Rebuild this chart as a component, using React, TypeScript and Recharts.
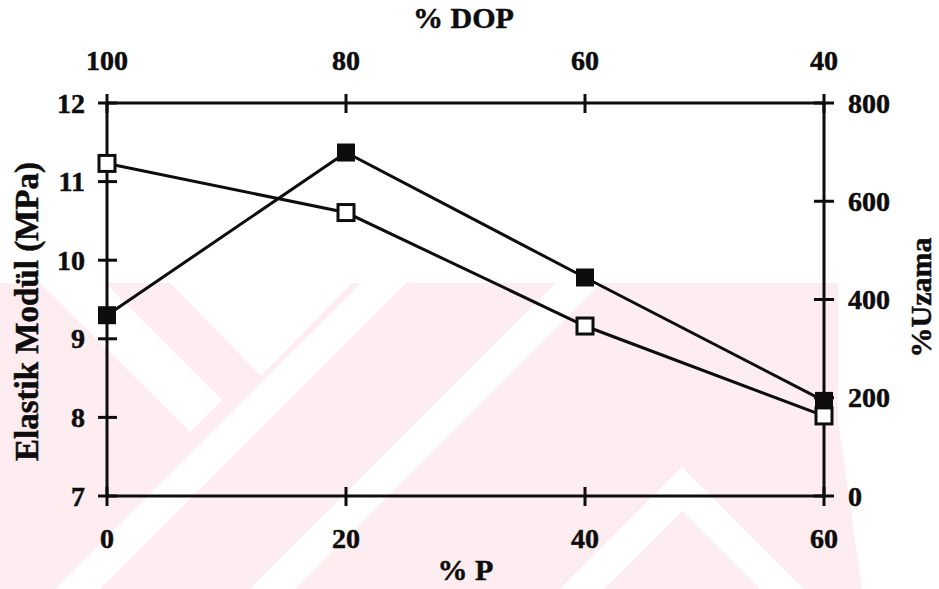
import React from 'react';
import { ComposedChart, Line, XAxis, YAxis } from 'recharts';

// % P content and the matching % DOP share of the blend
const pContent = [0, 20, 40, 60];
const dopContent = [100, 80, 60, 40];

// measured properties
const elastikModul = [9.3, 11.37, 9.78, 8.21]; // MPa, filled squares
const uzama = [677, 577, 346, 163]; // %, open squares

const modTicks = [7, 8, 9, 10, 11, 12];
const uzamaTicks = [0, 200, 400, 600, 800];

const rows = pContent.map((p, i) => ({
  p,
  dop: dopContent[i],
  mod: elastikModul[i],
  uz: uzama[i],
}));

const INK = '#0d0d0d';
const STROKE = 3;
const SERIF = '"Liberation Serif", "Times New Roman", serif';
const tickFont = { fontFamily: SERIF, fontWeight: 700, fontSize: 28, fill: INK, stroke: INK, strokeWidth: 0.5 };
const titleFont = { fontFamily: SERIF, fontWeight: 700, fill: INK, stroke: INK, strokeWidth: 0.5 };

// ticks cross the axis line, so draw them ourselves
const LeftTick = ({ x, y, payload }: any) => (
  <g>
    <line x1={x - 9} x2={x + 10} y1={y} y2={y} stroke={INK} strokeWidth={STROKE} />
    <text x={x - 22} y={y + 9.5} textAnchor="end" style={tickFont}>{payload.value}</text>
  </g>
);

const RightTick = ({ x, y, payload }: any) => (
  <g>
    <line x1={x - 10} x2={x + 10} y1={y} y2={y} stroke={INK} strokeWidth={STROKE} />
    <text x={x + 24} y={y + 9.5} textAnchor="start" style={tickFont}>{payload.value}</text>
  </g>
);

const TopTick = ({ x, y, payload }: any) => (
  <g>
    <line x1={x} x2={x} y1={y - 9} y2={y + 10} stroke={INK} strokeWidth={STROKE} />
    <text x={x} y={y - 33} textAnchor="middle" style={tickFont}>{payload.value}</text>
  </g>
);

const BottomTick = ({ x, y, payload }: any) => (
  <g>
    <line x1={x} x2={x} y1={y - 9} y2={y + 10} stroke={INK} strokeWidth={STROKE} />
    <text x={x} y={y + 52} textAnchor="middle" style={tickFont}>{payload.value}</text>
  </g>
);

const FilledSquare = (props: any) => (
  <rect key={`f-${props.index}`} x={props.cx - 9} y={props.cy - 9} width={18} height={18} fill={INK} />
);

const OpenSquare = (props: any) => (
  <rect
    key={`o-${props.index}`}
    x={props.cx - 8}
    y={props.cy - 8}
    width={16}
    height={16}
    fill="#fff"
    stroke={INK}
    strokeWidth={STROKE}
  />
);

// faint pink stamp behind the lower half of the plot
const Watermark = () => (
  <svg width={939} height={589} style={{ position: 'absolute', left: 0, top: 0 }}>
    <polygon points="0,283 838,283 838,420 862,589 0,589" fill="#fdedf0" />
    <polygon points="40,283 105,283 222,400 190,432" fill="#fff" />
    <polygon points="170,283 352,283 261,376" fill="#fff" />
    <polygon points="55,589 100,589 406,283 361,283" fill="#fff" />
    <polygon points="250,589 295,589 601,283 556,283" fill="#fff" />
    <polygon points="560,589 682,467 804,589 760,589 682,511 604,589" fill="#fff" />
  </svg>
);

export default function App() {
  return (
    <div style={{ position: 'absolute', left: 0, top: 0, width: 939, height: 589, background: '#fff' }}>
      <Watermark />
      <div style={{ position: 'absolute', left: 0, top: 0 }}>
        <ComposedChart width={939} height={589} data={rows} margin={{ top: 0, right: 0, bottom: 0, left: 0 }}>
          <XAxis
            xAxisId="p"
            dataKey="p"
            type="number"
            domain={[0, 60]}
            ticks={pContent}
            orientation="bottom"
            height={93}
            tickSize={0}
            tickMargin={0}
            tickLine={false}
            axisLine={{ stroke: INK, strokeWidth: STROKE }}
            tick={<BottomTick />}
            label={(lp: any) => {
              const vb = lp.viewBox;
              return (
                <text x={vb.x + vb.width / 2} y={580} textAnchor="middle" style={{ ...titleFont, fontSize: 30 }}>
                  % P
                </text>
              );
            }}
          />
          <XAxis
            xAxisId="dop"
            dataKey="dop"
            type="number"
            domain={[40, 100]}
            reversed
            ticks={dopContent}
            orientation="top"
            height={103}
            tickSize={0}
            tickMargin={0}
            tickLine={false}
            axisLine={{ stroke: INK, strokeWidth: STROKE }}
            tick={<TopTick />}
            label={(lp: any) => {
              const vb = lp.viewBox;
              return (
                <text x={vb.x + vb.width / 2 - 2} y={28} textAnchor="middle" style={{ ...titleFont, fontSize: 30 }}>
                  % DOP
                </text>
              );
            }}
          />
          <YAxis
            yAxisId="mod"
            type="number"
            domain={[7, 12]}
            ticks={modTicks}
            orientation="left"
            width={107}
            tickSize={0}
            tickMargin={0}
            tickLine={false}
            axisLine={{ stroke: INK, strokeWidth: STROKE }}
            tick={<LeftTick />}
            label={(lp: any) => {
              const vb = lp.viewBox;
              const cy = vb.y + vb.height / 2 + 12;
              return (
                <text x={38} y={cy} textAnchor="middle" transform={`rotate(-90, 38, ${cy})`} style={{ ...titleFont, fontSize: 33 }}>
                  Elastik Modül (MPa)
                </text>
              );
            }}
          />
          <YAxis
            yAxisId="uz"
            type="number"
            domain={[0, 800]}
            ticks={uzamaTicks}
            orientation="right"
            width={115}
            tickSize={0}
            tickMargin={0}
            tickLine={false}
            axisLine={{ stroke: INK, strokeWidth: STROKE }}
            tick={<RightTick />}
            label={(lp: any) => {
              const vb = lp.viewBox;
              const cy = vb.y + vb.height / 2 - 2;
              return (
                <text x={931} y={cy} textAnchor="middle" transform={`rotate(-90, 931, ${cy})`} style={{ ...titleFont, fontSize: 30 }}>
                  %Uzama
                </text>
              );
            }}
          />
          <Line
            xAxisId="p"
            yAxisId="mod"
            dataKey="mod"
            type="linear"
            stroke={INK}
            strokeWidth={STROKE}
            dot={FilledSquare}
            isAnimationActive={false}
          />
          <Line
            xAxisId="p"
            yAxisId="uz"
            dataKey="uz"
            type="linear"
            stroke={INK}
            strokeWidth={STROKE}
            dot={OpenSquare}
            isAnimationActive={false}
          />
        </ComposedChart>
      </div>
    </div>
  );
}
